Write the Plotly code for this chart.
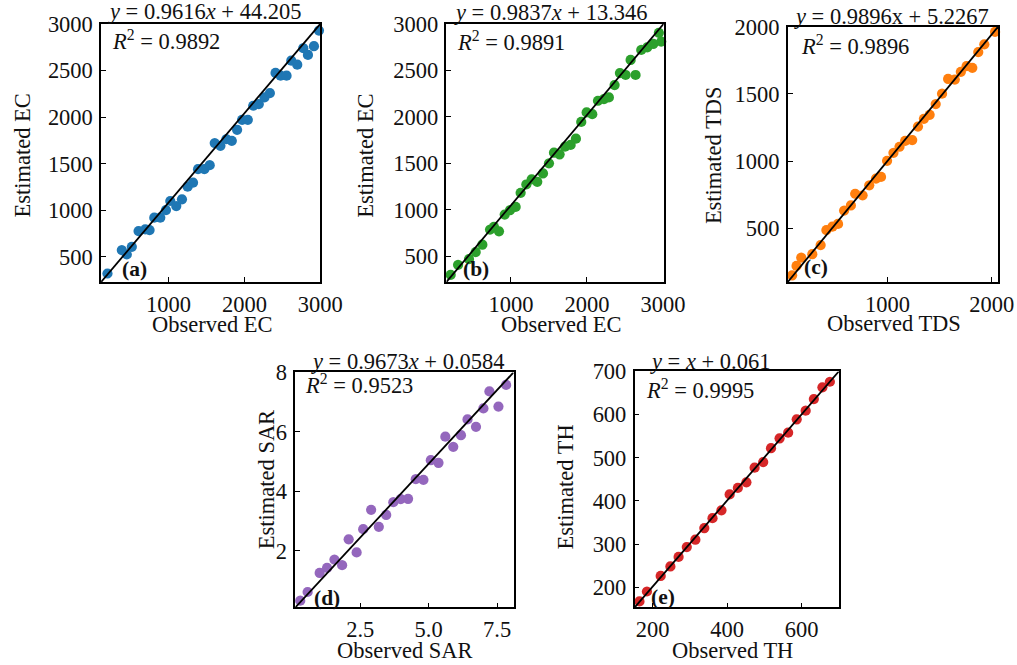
import plotly.graph_objects as go

# The photographed page appears at a scale of 1017/1040 and about 14px lower than
# the page top, so the figure is laid out on a 1040-px-wide css page, pulled up by
# 14 css px, and picture coordinates below are mapped into it.
W, H = 1040, 680
S = 1017 / W
OY = 0.3

# ---------------- data ----------------
ec_a_obs = [194, 383, 449, 515, 604, 692, 749, 811, 890, 965, 1022, 1101, 1176, 1251, 1322, 1388, 1471,
            1542, 1608, 1683, 1762, 1833, 1903, 1969, 2044, 2115, 2189, 2264, 2335, 2410, 2476, 2555,
            2617, 2696, 2775, 2837, 2916, 2982]
ec_a_est = [321, 572, 525, 607, 776, 794, 787, 920, 920, 1002, 1099, 1045, 1117, 1253, 1296, 1440, 1440,
            1483, 1720, 1691, 1762, 1745, 1863, 1970, 1970, 2121, 2139, 2211, 2257, 2473, 2444, 2444,
            2605, 2562, 2738, 2666, 2760, 2928]

ec_b_obs = [206, 303, 447, 535, 623, 724, 776, 842, 917, 987, 1061, 1127, 1202, 1272, 1346, 1421, 1500,
            1566, 1640, 1711, 1785, 1855, 1925, 1996, 2070, 2145, 2224, 2289, 2364, 2434, 2509, 2575,
            2640, 2715, 2794, 2873, 2947, 2978]
ec_b_est = [302, 410, 471, 547, 626, 788, 817, 770, 950, 997, 1032, 1184, 1273, 1327, 1302, 1392, 1500,
            1615, 1597, 1680, 1698, 1766, 1946, 2047, 2029, 2173, 2191, 2209, 2342, 2471, 2450, 2612,
            2450, 2719, 2748, 2784, 2903, 2809]

tds_obs = [87, 129, 174, 280, 360, 415, 473, 527, 585, 650, 691, 762, 826, 891, 939, 997, 1058, 1116,
           1170, 1238, 1293, 1350, 1405, 1463, 1524, 1582, 1646, 1704, 1759, 1814, 1871, 1929, 2032]
tds_est = [150, 220, 282, 307, 375, 487, 512, 532, 632, 670, 757, 745, 820, 870, 882, 1002, 1062, 1107,
           1150, 1157, 1257, 1315, 1345, 1425, 1502, 1612, 1607, 1665, 1707, 1695, 1812, 1870, 1962]

sar_obs = [0.31, 0.58, 1.02, 1.29, 1.56, 1.84, 2.08, 2.37, 2.61, 2.90, 3.18, 3.45, 3.71, 3.98, 4.25,
           4.53, 4.81, 5.08, 5.36, 5.61, 5.90, 6.18, 6.42, 6.73, 7.00, 7.22, 7.55, 7.83]
sar_est = [0.33, 0.62, 1.26, 1.43, 1.71, 1.52, 2.39, 1.95, 2.73, 3.38, 2.81, 3.21, 3.64, 3.74, 3.75,
           4.41, 4.39, 5.05, 4.96, 5.84, 5.50, 5.89, 6.42, 6.17, 6.79, 7.36, 6.85, 7.58]

th_obs = [165, 185, 222, 248, 270, 292, 315, 339, 361, 385, 407, 429, 452, 474, 497, 518, 541, 564,
          587, 611, 633, 656, 676]
th_est = [167, 190, 226, 248, 270, 293, 310, 337, 360, 378, 415, 430, 443, 477, 490, 522, 545, 558,
          589, 609, 636, 663, 676]

equations = ["<i>y</i> = 0.9616<i>x</i> + 44.205",
             "<i>y</i> = 0.9837<i>x</i> + 13.346",
             "<i>y</i> = 0.9896x + 5.2267",
             "<i>y</i> = 0.9673<i>x</i> + 0.0584",
             "<i>y</i> = <i>x</i> + 0.061"]
r2_values = ["0.9892", "0.9891", "0.9896", "0.9523", "0.9995"]
panel_labels = ["(a)", "(b)", "(c)", "(d)", "(e)"]
x_titles = ["Observed EC", "Observed EC", "Observed TDS", "Observed SAR", "Observed TH"]
y_titles = ["Estimated EC", "Estimated EC", "Estimated TDS", "Estimated SAR", "Estimated TH"]
colors = ["#1f77b4", "#2ca02c", "#ff7f0e", "#9467bd", "#d62728"]

x_ticks = [[1000, 2000, 3000], [1000, 2000, 3000], [1000, 2000], [2.5, 5.0, 7.5], [200, 400, 600]]
x_ticktext = [["1000", "2000", "3000"], ["1000", "2000", "3000"], ["1000", "2000"],
              ["2.5", "5.0", "7.5"], ["200", "400", "600"]]
y_ticks = [[500, 1000, 1500, 2000, 2500, 3000], [500, 1000, 1500, 2000, 2500, 3000],
           [500, 1000, 1500, 2000], [2, 4, 6, 8], [200, 300, 400, 500, 600, 700]]

x_ranges = [[110, 3000], [150, 3010], [45, 2060], [0.13, 8.1], [152, 700]]
y_ranges = [[230, 3000], [225, 3000], [100, 2000], [0.1, 8.0], [153, 700]]

series = [(ec_a_obs, ec_a_est), (ec_b_obs, ec_b_est), (tds_obs, tds_est),
          (sar_obs, sar_est), (th_obs, th_est)]

# ---------------- layout (picture pixel positions) ----------------
boxes = [(101, 320, 26, 283), (446, 663, 26, 283), (787, 997, 29, 283),
         (295, 513, 373, 607), (634, 838, 372, 607)]
eq_pos = [(205, 14), (550, 15), (891, 19), (408, 362), (709, 362)]
r2_pos = [(110, 42), (455, 43), (798, 47), (303, 385), (643, 390)]
lab_pos = [(120, 270), (461, 270), (801, 268), (312, 598), (648, 597)]
xt_pos = [(212, 325), (561, 325), (893, 324), (405, 650), (732, 650)]
yt_pos = [(22, 157), (365, 157), (713, 157), (267, 480), (565, 487)]

FONT = "Liberation Serif, Times New Roman, serif"
TICK_SIZE = 22 / S
TEXT_SIZE = 22 / S
LABEL_SIZE = 21 / S

fig = go.Figure()
annotations = []


def px(x):
    return (x / S) / W


def py(y):
    return 1 - ((y - OY) / S) / H


for i in range(5):
    n = "" if i == 0 else str(i + 1)
    xa, ya = "x" + n, "y" + n
    obs, est = series[i]
    fig.add_trace(go.Scatter(x=obs, y=est, mode="markers", xaxis=xa, yaxis=ya,
                             marker=dict(color=colors[i], size=10 / S, line=dict(width=0)),
                             showlegend=False, cliponaxis=False, hoverinfo="skip"))
    fig.add_trace(go.Scatter(x=x_ranges[i], y=y_ranges[i], mode="lines", xaxis=xa, yaxis=ya,
                             line=dict(color="black", width=1.8), showlegend=False,
                             hoverinfo="skip"))
    l, r, t, b = boxes[i]
    common = dict(showline=True, mirror=True, linecolor="black", linewidth=1.5,
                  ticks="inside", ticklen=5, tickcolor="black", showgrid=False, zeroline=False,
                  tickfont=dict(family=FONT, size=TICK_SIZE, color="#111"))
    fig.update_layout(**{
        ("xaxis" + n): dict(domain=[px(l), px(r)], range=x_ranges[i], anchor=ya,
                            tickvals=x_ticks[i], ticktext=x_ticktext[i], ticklabelstandoff=1, **common),
        ("yaxis" + n): dict(domain=[py(b), py(t)], range=y_ranges[i], anchor=xa,
                            tickvals=y_ticks[i], ticklabelstandoff=2, **common),
    })
    annotations.append(dict(text=equations[i], x=px(eq_pos[i][0]), y=py(eq_pos[i][1]),
                            xref="paper", yref="paper", showarrow=False, xanchor="center",
                            yanchor="middle", font=dict(family=FONT, size=TEXT_SIZE, color="#111")))
    annotations.append(dict(text="<i>R</i><sup>2</sup> = " + r2_values[i], x=px(r2_pos[i][0]),
                            y=py(r2_pos[i][1]), xref="paper", yref="paper", showarrow=False,
                            xanchor="left", yanchor="middle",
                            font=dict(family=FONT, size=TEXT_SIZE, color="#111")))
    annotations.append(dict(text="<b>" + panel_labels[i] + "</b>", x=px(lab_pos[i][0]),
                            y=py(lab_pos[i][1]), xref="paper", yref="paper", showarrow=False,
                            xanchor="left", yanchor="middle",
                            font=dict(family=FONT, size=LABEL_SIZE, color="#111")))
    annotations.append(dict(text=x_titles[i], x=px(xt_pos[i][0]), y=py(xt_pos[i][1]),
                            xref="paper", yref="paper", showarrow=False, xanchor="center",
                            yanchor="middle", font=dict(family=FONT, size=TEXT_SIZE, color="#111")))
    annotations.append(dict(text=y_titles[i], x=px(yt_pos[i][0]), y=py(yt_pos[i][1]),
                            xref="paper", yref="paper", showarrow=False, xanchor="center",
                            yanchor="middle", textangle=-90,
                            font=dict(family=FONT, size=TEXT_SIZE, color="#111")))

fig.update_layout(width=W, height=H, margin=dict(l=0, r=0, t=0, b=0),
                  paper_bgcolor="white", plot_bgcolor="white", annotations=annotations)

fig.write_html("out.html", config={"displayModeBar": False},
               post_script="document.body.style.margin='0';document.body.style.marginTop='-14px';"
                           "document.body.style.overflow='hidden';")
